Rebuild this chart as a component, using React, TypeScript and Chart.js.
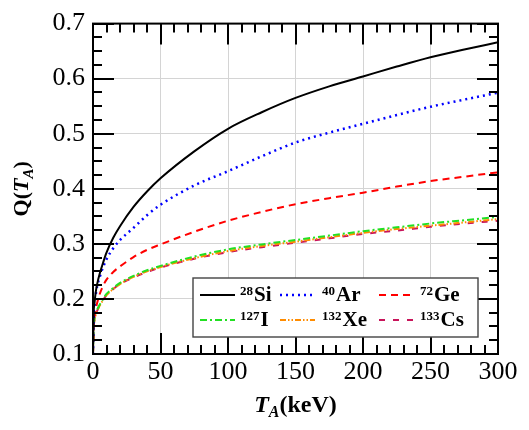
import React, { useEffect, useRef } from "react";
import { Chart, registerables } from "chart.js";

Chart.register(...registerables);

// ---- data ----
const energies = [0, 0.5, 1, 2, 3, 5, 7.5, 10, 15, 20, 30, 40, 50, 75, 100, 125, 150, 175, 200, 225, 250, 275, 300];
const qSi = [0.1, 0.175, 0.19, 0.212, 0.226, 0.246, 0.266, 0.284, 0.311, 0.332, 0.367, 0.395, 0.419, 0.468, 0.509, 0.539, 0.565, 0.586, 0.604, 0.622, 0.639, 0.653, 0.666];
const qAr = [0.1, 0.17, 0.185, 0.207, 0.222, 0.24, 0.258, 0.272, 0.292, 0.307, 0.329, 0.352, 0.371, 0.406, 0.432, 0.459, 0.484, 0.502, 0.518, 0.534, 0.549, 0.562, 0.5745];
const qGe = [0.1, 0.15, 0.165, 0.181, 0.192, 0.209, 0.224, 0.235, 0.249, 0.259, 0.276, 0.289, 0.299, 0.322, 0.342, 0.358, 0.372, 0.383, 0.393, 0.404, 0.414, 0.422, 0.43];
const qI = [0.1, 0.15, 0.163, 0.173, 0.18, 0.19, 0.2, 0.209, 0.22, 0.229, 0.242, 0.252, 0.26, 0.277, 0.29, 0.299, 0.307, 0.315, 0.323, 0.33, 0.337, 0.343, 0.349];
const qXe = [0.1, 0.148, 0.16, 0.171, 0.178, 0.188, 0.198, 0.207, 0.218, 0.227, 0.24, 0.25, 0.258, 0.274, 0.287, 0.296, 0.304, 0.312, 0.32, 0.327, 0.333, 0.339, 0.345];
const qCs = [0.1, 0.148, 0.16, 0.171, 0.178, 0.188, 0.198, 0.207, 0.218, 0.227, 0.239, 0.249, 0.257, 0.273, 0.285, 0.294, 0.302, 0.31, 0.318, 0.324, 0.331, 0.337, 0.342];

const elements = ["Si", "Ar", "Ge", "I", "Xe", "Cs"];
const massNumbers = ["28", "40", "72", "127", "132", "133"];
const seriesValues = [qSi, qAr, qGe, qI, qXe, qCs];

const xMin = 0, xMax = 300, xStep = 50, xMinorStep = 10;
const yMin = 0.1, yMax = 0.7, yStep = 0.1, yMinorStep = 0.025;

// ---- styles ----
const colors = ["#000000", "#0000ff", "#ff0000", "#22e022", "#ff8c00", "#c8145a"];
const dashes: number[][] = [[], [2, 4], [7, 5], [7, 3, 2, 3], [6, 2, 1.5, 2, 1.5, 2], [6, 8]];
const widths = [2, 2.5, 2, 2, 2, 2];

const SERIF = "'Liberation Serif', 'DejaVu Serif', serif";

function drawTicks(ctx: CanvasRenderingContext2D, a: any) {
  ctx.save();
  ctx.setLineDash([]);
  ctx.strokeStyle = "#000000";
  ctx.lineWidth = 2;
  const L = a.left, R = a.right, T = a.top, B = a.bottom;
  const nX = Math.round((xMax - xMin) / xMinorStep);
  const perX = Math.round(xStep / xMinorStep);
  ctx.beginPath();
  for (let k = 0; k <= nX; k++) {
    const px = Math.round(L + ((R - L) * k) / nX);
    const len = k % perX === 0 ? 21 : 9;
    ctx.moveTo(px, B);
    ctx.lineTo(px, B - len);
    ctx.moveTo(px, T);
    ctx.lineTo(px, T + len);
  }
  const nY = Math.round((yMax - yMin) / yMinorStep);
  const perY = Math.round(yStep / yMinorStep);
  for (let k = 0; k <= nY; k++) {
    const py = Math.round(B - ((B - T) * k) / nY);
    const len = k % perY === 0 ? 21 : 9;
    ctx.moveTo(L, py);
    ctx.lineTo(L + len, py);
    ctx.moveTo(R, py);
    ctx.lineTo(R - len, py);
  }
  ctx.stroke();
  ctx.lineWidth = 2;
  ctx.strokeRect(L, T, R - L, B - T);
  ctx.restore();
}

function drawLegend(ctx: CanvasRenderingContext2D) {
  ctx.save();
  const bx = 193, by = 278, bw = 285, bh = 59;
  ctx.fillStyle = "#fff";
  ctx.fillRect(bx, by, bw, bh);
  ctx.strokeStyle = "#444";
  ctx.lineWidth = 1.4;
  ctx.setLineDash([]);
  ctx.strokeRect(bx, by, bw, bh);
  const sampleX = [200, 280, 379];
  const textX = [240, 322, 420];
  const rowY = [295, 320];
  for (let i = 0; i < elements.length; i++) {
    const col = i % 3, row = Math.floor(i / 3);
    const y = rowY[row];
    ctx.beginPath();
    ctx.strokeStyle = colors[i];
    ctx.lineWidth = widths[i];
    ctx.setLineDash(dashes[i]);
    ctx.moveTo(sampleX[col], y);
    ctx.lineTo(sampleX[col] + 35, y);
    ctx.stroke();
    ctx.setLineDash([]);
    ctx.fillStyle = "#000";
    ctx.textAlign = "left";
    ctx.textBaseline = "alphabetic";
    ctx.font = `bold 13px ${SERIF}`;
    const sw = ctx.measureText(massNumbers[i]).width;
    ctx.fillText(massNumbers[i], textX[col], y);
    ctx.font = `bold 21px ${SERIF}`;
    ctx.fillText(elements[i], textX[col] + sw + 1, y + 6);
  }
  ctx.restore();
}

function drawTitles(ctx: CanvasRenderingContext2D, a: any) {
  ctx.save();
  ctx.fillStyle = "#000";
  ctx.textBaseline = "alphabetic";
  ctx.textAlign = "left";
  const parts = [
    { t: "T", f: `bold italic 24px ${SERIF}`, dy: 0 },
    { t: "A", f: `bold italic 16px ${SERIF}`, dy: 5 },
    { t: "(keV)", f: `bold 24px ${SERIF}`, dy: 0 },
  ];
  let total = 0;
  for (const p of parts) { ctx.font = p.f; total += ctx.measureText(p.t).width; }
  let x = (a.left + a.right) / 2 - total / 2;
  const baseY = 412;
  for (const p of parts) {
    ctx.font = p.f;
    ctx.fillText(p.t, x, baseY + p.dy);
    x += ctx.measureText(p.t).width;
  }
  const yparts = [
    { t: "Q(", f: `bold 22px ${SERIF}`, dy: 0 },
    { t: "T", f: `bold italic 22px ${SERIF}`, dy: 0 },
    { t: "A", f: `bold italic 15px ${SERIF}`, dy: 5 },
    { t: ")", f: `bold 22px ${SERIF}`, dy: 0 },
  ];
  let ytotal = 0;
  for (const p of yparts) { ctx.font = p.f; ytotal += ctx.measureText(p.t).width; }
  ctx.translate(28, (a.top + a.bottom) / 2);
  ctx.rotate(-Math.PI / 2);
  let yx = -ytotal / 2;
  for (const p of yparts) {
    ctx.font = p.f;
    ctx.fillText(p.t, yx, p.dy);
    yx += ctx.measureText(p.t).width;
  }
  ctx.restore();
}

const decorPlugin = {
  id: "decor",
  afterDraw(chart: any) {
    const ctx = chart.ctx as CanvasRenderingContext2D;
    const a = chart.chartArea;
    drawTicks(ctx, a);
    drawLegend(ctx);
    drawTitles(ctx, a);
  },
};

export default function App() {
  const canvasRef = useRef<HTMLCanvasElement | null>(null);

  useEffect(() => {
    const canvas = canvasRef.current;
    if (!canvas) return;
    const datasets = seriesValues.map((vals, i) => ({
      label: massNumbers[i] + elements[i],
      data: energies.map((e, j) => ({ x: e, y: vals[j] })),
      borderColor: colors[i],
      backgroundColor: colors[i],
      borderWidth: widths[i],
      borderDash: dashes[i],
      pointRadius: 0,
      fill: false,
      cubicInterpolationMode: "monotone" as const,
    }));
    const chart = new Chart(canvas, {
      type: "line",
      data: { datasets },
      options: {
        animation: false,
        responsive: false,
        devicePixelRatio: 1,
        layout: { padding: { top: 18, right: 31, left: 0, bottom: 0 } },
        plugins: { legend: { display: false }, tooltip: { enabled: false }, title: { display: false } },
        scales: {
          x: {
            type: "linear",
            min: xMin,
            max: xMax,
            border: { display: false },
            grid: { color: "#d4d4d4", lineWidth: 1, drawTicks: false },
            ticks: {
              stepSize: xStep,
              padding: 3,
              color: "#000",
              font: { family: SERIF, size: 26 },
              maxRotation: 0,
              callback: (v: any) => String(v),
            },
            afterFit: (s: any) => { s.height = 76; },
          },
          y: {
            type: "linear",
            min: yMin,
            max: yMax,
            border: { display: false },
            grid: { color: "#d4d4d4", lineWidth: 1, drawTicks: false },
            ticks: {
              stepSize: yStep,
              padding: 8,
              color: "#000",
              font: { family: SERIF, size: 26 },
              callback: (v: any) => Number(v).toFixed(1),
            },
            afterFit: (s: any) => { s.width = 93; },
          },
        },
      },
      plugins: [decorPlugin],
    });
    return () => chart.destroy();
  }, []);

  return (
    <div style={{ position: "absolute", left: 0, top: 0, width: 529, height: 430, background: "#fff" }}>
      <canvas ref={canvasRef} width={529} height={430} style={{ width: 529, height: 430 }} />
    </div>
  );
}
